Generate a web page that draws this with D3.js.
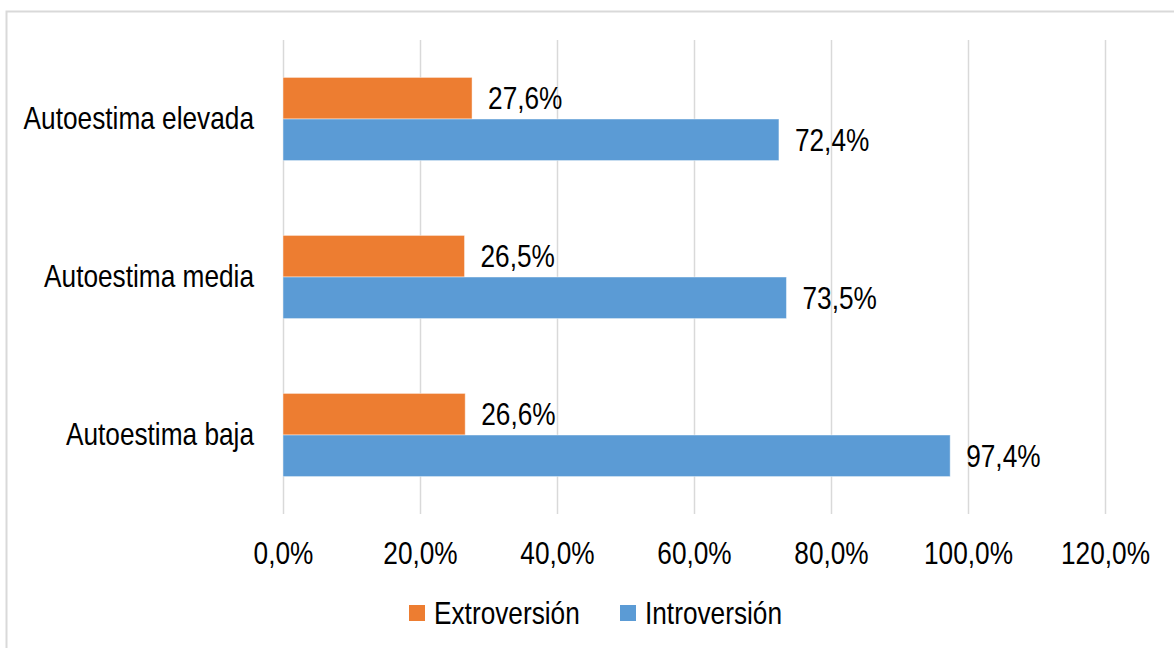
<!DOCTYPE html>
<html>
<head>
<meta charset="utf-8">
<script src="https://cdn.jsdelivr.net/npm/d3@7"></script>
<style>
  html, body { margin: 0; padding: 0; background: #fff; }
  svg text { font-family: "Liberation Sans", Arial, sans-serif; fill: #000; }
</style>
</head>
<body>
<div id="chart"></div>
<script>
// Datos del gráfico
const categories = ["Autoestima elevada", "Autoestima media", "Autoestima baja"];
const seriesNames = ["Extroversión", "Introversión"];
const extroversion = [27.6, 26.5, 26.6];
const introversion = [72.4, 73.5, 97.4];
const tickValues = [0, 20, 40, 60, 80, 100, 120];

const CONFIG = {
  width: 1174,
  height: 648,
  plot: { left: 283, right: 1105, top: 40, bottom: 514 },
  colors: ["#ED7D31", "#5B9BD5"],
  grid: "#d9d9d9",
  fontSize: 32,
  narrow: 0.82, // simula una fuente estrecha (Arial Narrow)
};

const locale = d3.formatLocale({ decimal: ",", thousands: ".", grouping: [3], currency: ["", "€"] });
const fmt = (v) => locale.format(".1f")(v) + "%";

const rows = categories.map((c, i) => ({
  category: c,
  values: [extroversion[i], introversion[i]],
}));

const svg = d3.select("#chart")
  .append("svg")
  .attr("width", CONFIG.width)
  .attr("height", CONFIG.height);

// Marco del gráfico
svg.append("rect")
  .attr("x", 6.5)
  .attr("y", 11.5)
  .attr("width", CONFIG.width + 20)
  .attr("height", CONFIG.height + 20)
  .attr("fill", "#fff")
  .attr("stroke", "#d9d9d9")
  .attr("stroke-width", 2);

const x = d3.scaleLinear()
  .domain([0, d3.max(tickValues)])
  .range([CONFIG.plot.left, CONFIG.plot.right]);

const y = d3.scaleBand()
  .domain(categories)
  .range([CONFIG.plot.top, CONFIG.plot.bottom])
  .padding(0);

const ySub = d3.scaleBand()
  .domain(seriesNames)
  .range([0, y.bandwidth()])
  .paddingInner(0)
  .paddingOuter(0.9);

// Líneas de cuadrícula verticales
svg.append("g")
  .selectAll("line")
  .data(tickValues)
  .join("line")
  .attr("x1", (d) => x(d) + 0.5)
  .attr("x2", (d) => x(d) + 0.5)
  .attr("y1", CONFIG.plot.top)
  .attr("y2", CONFIG.plot.bottom)
  .attr("stroke", CONFIG.grid)
  .attr("stroke-width", 1.5);

// Eje X
svg.append("g")
  .attr("transform", `translate(0,${CONFIG.plot.bottom})`)
  .call(d3.axisBottom(x).tickValues(tickValues).tickFormat(fmt).tickSize(0).tickPadding(27))
  .call((g) => {
    g.select(".domain").remove();
    g.selectAll(".tick text")
      .style("font-size", `${CONFIG.fontSize}px`)
      .style("font-family", null)
      .attr("fill", "#000")
      .attr("transform", `scale(${CONFIG.narrow},1)`);
  });

// Eje Y (categorías)
svg.append("g")
  .attr("transform", `translate(${CONFIG.plot.left},0)`)
  .call(d3.axisLeft(y).tickSize(0).tickPadding(29))
  .call((g) => {
    g.select(".domain").remove();
    g.selectAll(".tick text")
      .style("font-size", `${CONFIG.fontSize}px`)
      .style("font-family", null)
      .attr("fill", "#000")
      .attr("x", -29 / CONFIG.narrow)
      .attr("transform", `scale(${CONFIG.narrow},1)`);
  });

// Barras
const groups = svg.append("g")
  .selectAll("g")
  .data(rows)
  .join("g")
  .attr("transform", (d) => `translate(0,${y(d.category)})`);

groups.selectAll("rect")
  .data((d) => d.values.map((v, i) => ({ key: seriesNames[i], value: v, i })))
  .join("rect")
  .attr("x", x(0))
  .attr("y", (d) => ySub(d.key))
  .attr("width", (d) => x(d.value) - x(0))
  .attr("height", ySub.bandwidth())
  .attr("fill", (d) => CONFIG.colors[d.i])
  .attr("stroke", "#ffffff")
  .attr("stroke-opacity", 0.45)
  .attr("stroke-width", 1);

// Etiquetas de datos
groups.selectAll("text")
  .data((d) => d.values.map((v, i) => ({ key: seriesNames[i], value: v })))
  .join("text")
  .attr("transform", (d) =>
    `translate(${x(d.value) + 16},${ySub(d.key) + ySub.bandwidth() / 2}) scale(${CONFIG.narrow},1)`)
  .attr("dy", "0.35em")
  .style("font-size", `${CONFIG.fontSize}px`)
  .text((d) => fmt(d.value));

// Leyenda
const legend = svg.append("g").attr("transform", "translate(409,613)");
const legendX = [0, 211];
const items = legend.selectAll("g")
  .data(seriesNames)
  .join("g")
  .attr("transform", (d, i) => `translate(${legendX[i]},0)`);

items.append("rect")
  .attr("x", 0)
  .attr("y", -8)
  .attr("width", 16)
  .attr("height", 16)
  .attr("fill", (d, i) => CONFIG.colors[i]);

items.append("text")
  .attr("transform", `translate(25,0) scale(${CONFIG.narrow},1)`)
  .attr("dy", "0.35em")
  .style("font-size", `${CONFIG.fontSize}px`)
  .text((d) => d);
</script>
</body>
</html>
